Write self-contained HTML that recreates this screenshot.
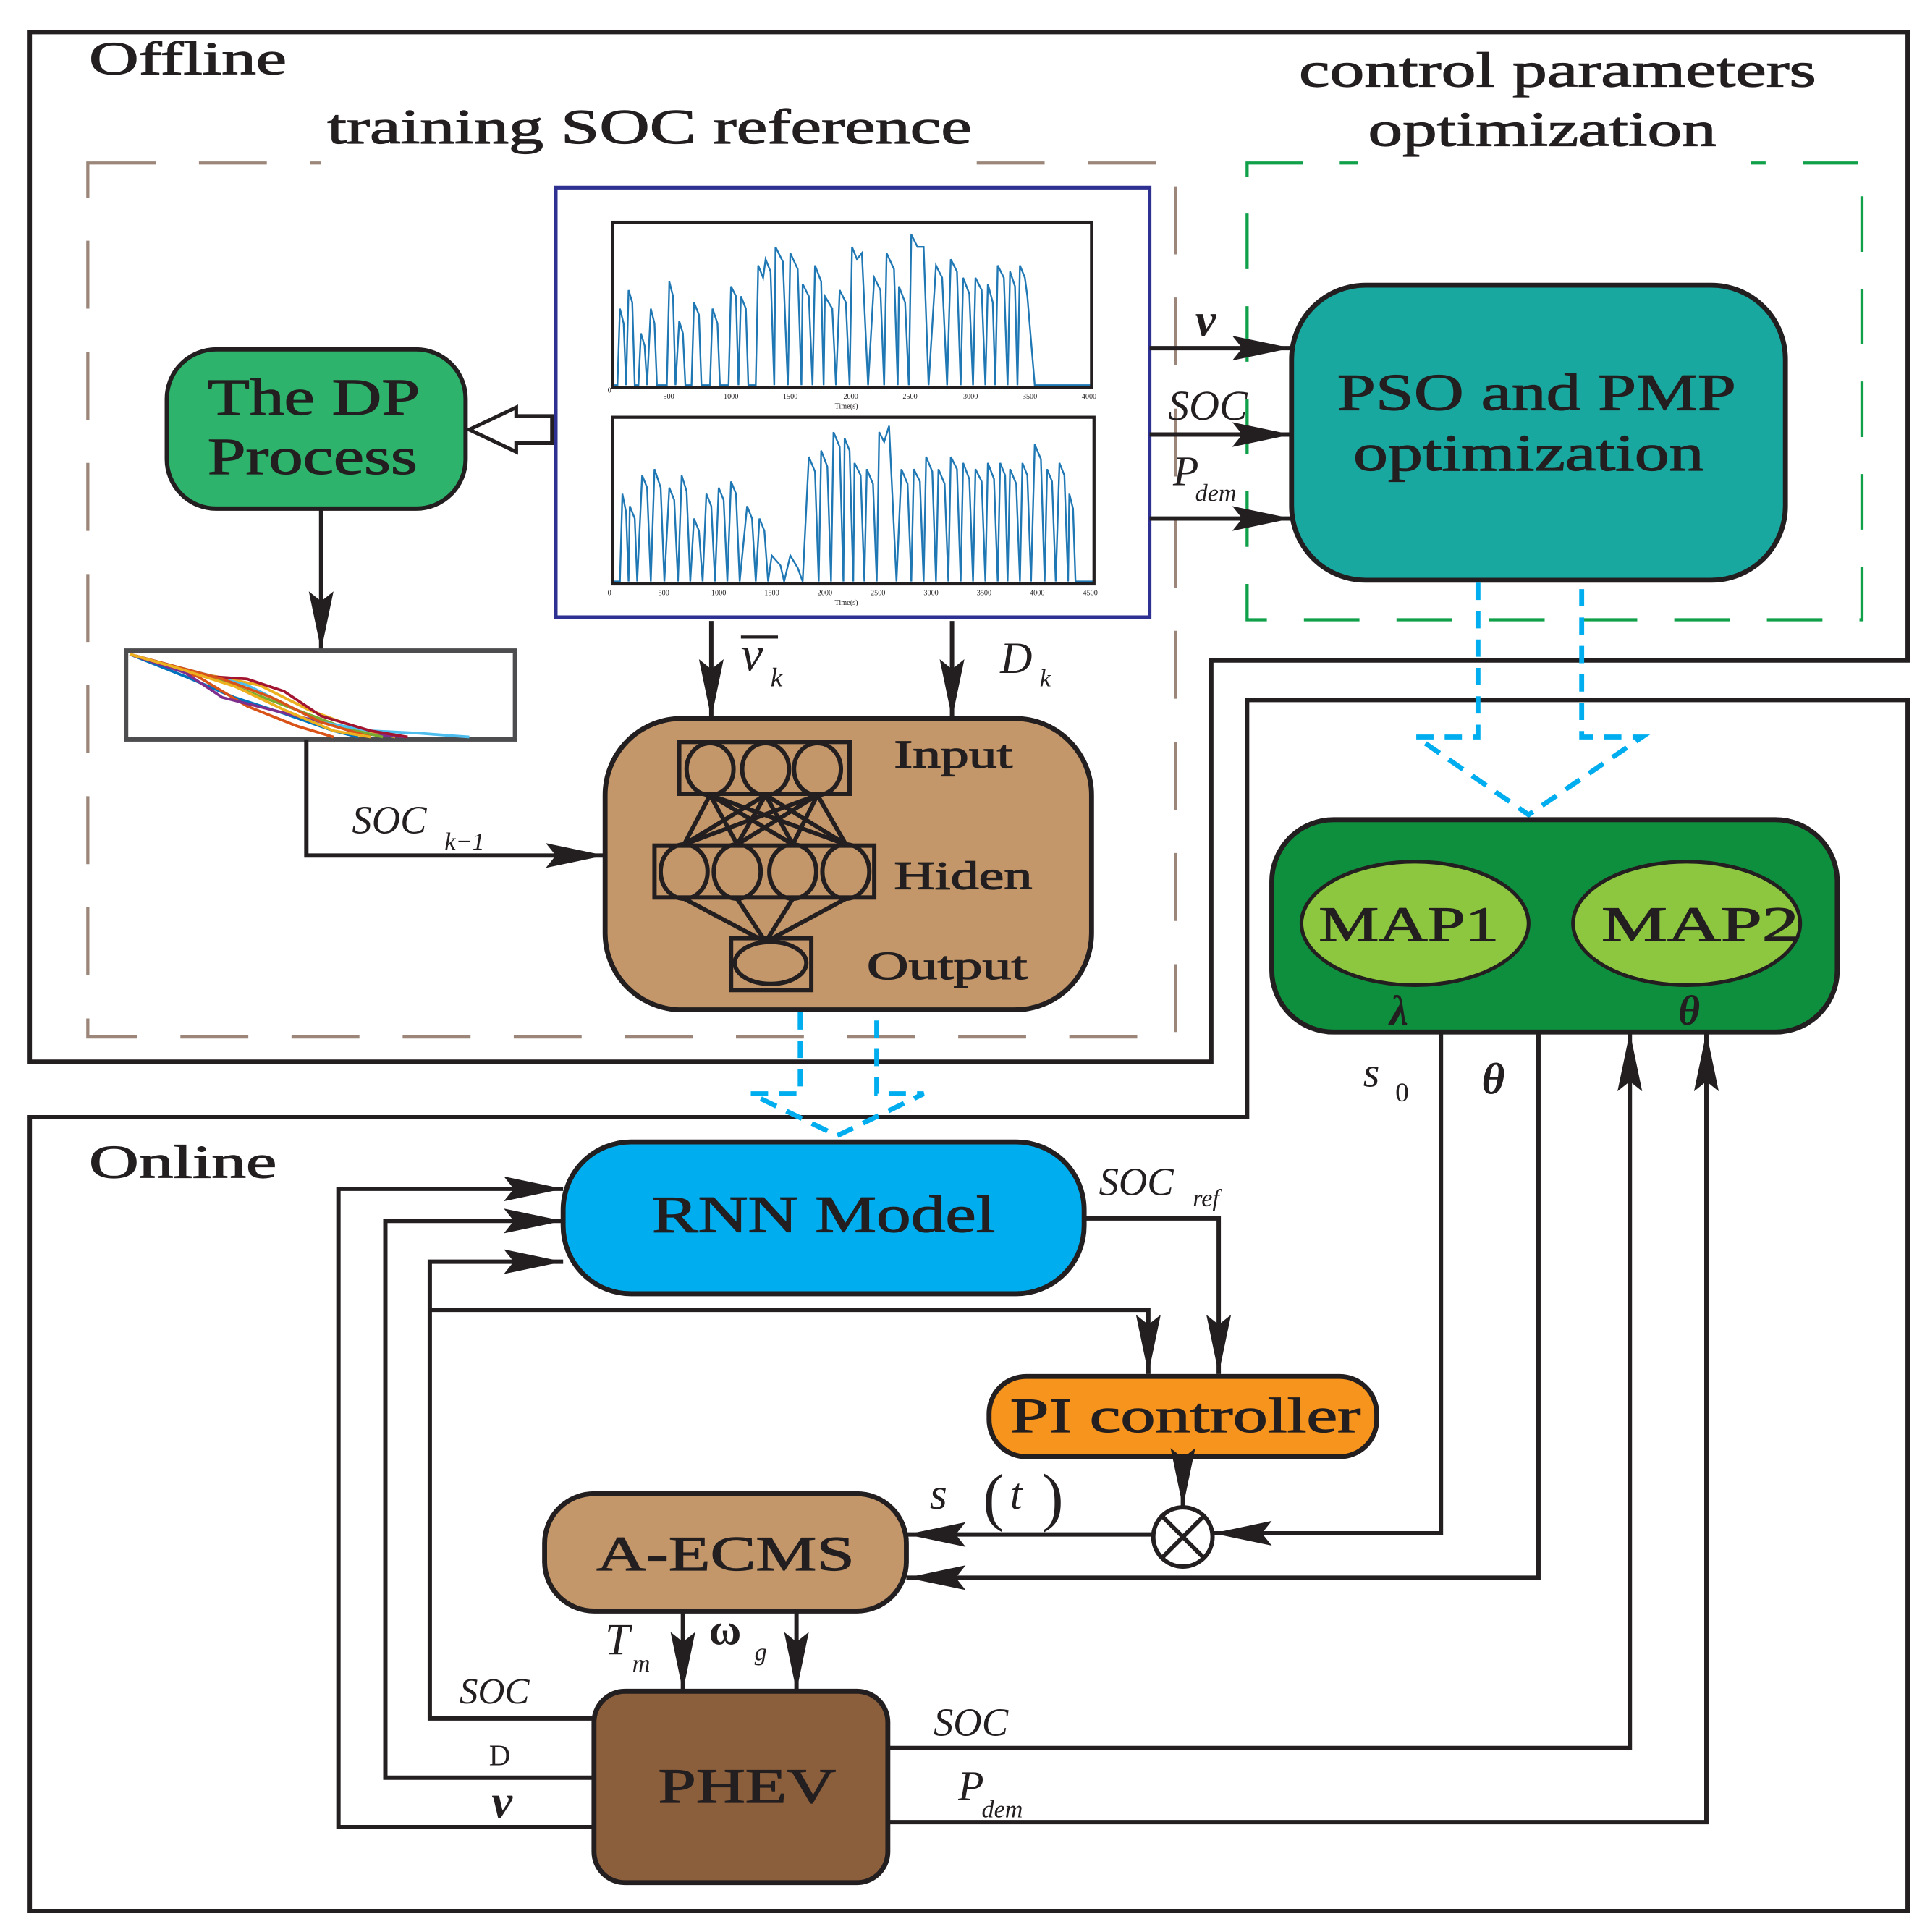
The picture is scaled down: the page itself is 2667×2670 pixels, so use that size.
<!DOCTYPE html>
<html><head><meta charset="utf-8"><style>
html,body{margin:0;padding:0;background:#fff}
svg{display:block}
text{font-family:"Liberation Serif",serif;fill:#231f20}
.it{font-style:italic}
.t{stroke:#231f20;stroke-width:0.7}
</style></head><body>
<svg width="2667" height="2670" viewBox="0 0 1563 1565" xmlns="http://www.w3.org/2000/svg">
<defs>
<marker id="a" markerUnits="userSpaceOnUse" markerWidth="50" markerHeight="22" refX="48" refY="11" orient="auto"><path d="M0,1 L48,11 L0,21 L8,11 Z" fill="#231f20"/></marker>
</defs>
<g fill="none" stroke="#231f20" stroke-width="3.5">
<path d="M24,26 H1545 V535 H981 V860 H24 Z"/>
<path d="M24,905 H1010 V567 H1545 V1548 H24 Z"/>
</g>
<rect x="71" y="132" width="881" height="708" fill="none" stroke="#9c8679" stroke-width="2.5" stroke-dasharray="55,35"/>
<rect x="1010" y="132" width="498" height="370" fill="none" stroke="#10a04a" stroke-width="2.5" stroke-dasharray="45,30"/>
<rect x="1100" y="124" width="318" height="16" fill="#fff"/>
<rect x="260" y="124" width="530" height="14" fill="#fff"/>
<text class="t" x="72" y="60" font-size="38" textLength="160" lengthAdjust="spacingAndGlyphs">Offline</text>
<text class="t" x="265" y="116" font-size="40" textLength="522" lengthAdjust="spacingAndGlyphs">training SOC reference</text>
<text class="t" x="1052" y="70" font-size="40" textLength="419" lengthAdjust="spacingAndGlyphs">control parameters</text>
<text class="t" x="1108" y="118" font-size="40" textLength="282" lengthAdjust="spacingAndGlyphs">optimization</text>
<text class="t" x="72" y="954" font-size="38" textLength="152" lengthAdjust="spacingAndGlyphs">Online</text>

<!-- plots -->
<rect x="450" y="152" width="481" height="348" fill="#fff" stroke="#2e3192" stroke-width="3"/>
<path fill="none" stroke="#1f77b4" stroke-width="1.4" d="M497,312 L500,312 L502,250 L505,262 L507,312 L509,235 L512,245 L514,312 L517,312 L519,270 L522,280 L524,312 L527,250 L530,262 L532,312 L540,312 L542,228 L545,240 L547,312 L550,260 L553,270 L555,312 L560,312 L562,245 L566,255 L568,312 L575,312 L577,250 L581,262 L583,312 L590,312 L592,232 L596,240 L598,312 L600,240 L604,250 L606,312 L612,312 L614,215 L618,225 L620,210 L624,220 L627,312 L628,200 L634,212 L638,312 L640,205 L646,218 L649,312 L650,230 L655,240 L658,312 L660,215 L665,228 L667,312 L668,240 L674,250 L677,312 L680,235 L685,245 L688,312 L690,200 L694,210 L698,205 L703,312 L708,225 L713,235 L716,312 L718,205 L724,218 L727,312 L728,232 L733,245 L736,312 L738,190 L743,200 L748,200 L752,312 L758,215 L763,225 L767,312 L770,210 L775,220 L778,312 L780,225 L785,238 L788,312 L790,225 L795,235 L798,312 L800,230 L804,245 L806,312 L808,215 L813,225 L816,312 L818,220 L822,232 L824,312 L826,215 L830,225 L832,240 L838,312 L884,312"/>
<path fill="none" stroke="#1f77b4" stroke-width="1.4" d="M497,471 L502,471 L504,400 L507,415 L509,471 L510,410 L514,420 L516,471 L520,385 L524,395 L527,471 L530,380 L535,395 L538,471 L542,395 L546,405 L549,471 L552,385 L556,398 L559,471 L562,420 L566,430 L569,471 L572,400 L576,410 L579,471 L582,395 L586,405 L589,471 L592,390 L596,400 L599,471 L605,410 L609,420 L612,471 L615,420 L619,430 L622,471 L625,450 L632,458 L635,471 L640,450 L646,460 L650,471 L655,370 L660,382 L663,471 L665,365 L670,378 L673,471 L675,350 L680,362 L683,471 L684,355 L688,365 L691,471 L692,375 L697,385 L700,471 L702,380 L707,392 L710,471 L712,350 L716,358 L720,345 L726,471 L730,380 L735,392 L738,471 L740,380 L745,390 L748,471 L750,370 L755,382 L758,471 L760,380 L765,392 L768,471 L770,370 L775,380 L778,471 L780,375 L785,388 L788,471 L790,380 L795,390 L798,471 L800,375 L805,388 L808,471 L810,375 L814,385 L816,471 L818,380 L823,392 L826,471 L828,375 L832,385 L835,471 L838,360 L843,372 L846,471 L848,380 L852,390 L855,471 L858,375 L862,385 L865,471 L866,400 L869,412 L871,471 L886,471"/>
<rect x="496" y="180" width="388" height="134" fill="none" stroke="#231f20" stroke-width="2.5"/>
<rect x="496" y="338" width="390" height="135" fill="none" stroke="#231f20" stroke-width="2.5"/>
<g font-size="6" fill="#231f20">
<text x="492" y="318">0</text><text x="537" y="323">500</text><text x="586" y="323">1000</text><text x="634" y="323">1500</text><text x="683" y="323">2000</text><text x="731" y="323">2500</text><text x="780" y="323">3000</text><text x="828" y="323">3500</text><text x="876" y="323">4000</text>
<text x="676" y="331">Time(s)</text>
<text x="492" y="482">0</text><text x="533" y="482">500</text><text x="576" y="482">1000</text><text x="619" y="482">1500</text><text x="662" y="482">2000</text><text x="705" y="482">2500</text><text x="748" y="482">3000</text><text x="791" y="482">3500</text><text x="834" y="482">4000</text><text x="877" y="482">4500</text>
<text x="676" y="490">Time(s)</text>
</g>

<!-- DP -->
<rect x="135" y="283" width="242" height="129" rx="40" fill="#2db36b" stroke="#231f20" stroke-width="3.5"/>
<text class="t" x="168" y="336" font-size="42" textLength="172" lengthAdjust="spacingAndGlyphs">The DP</text>
<text class="t" x="168" y="384" font-size="42" textLength="170" lengthAdjust="spacingAndGlyphs">Process</text>
<path d="M447,337 H418 V330 L380,348 L418,366 V359 H447 Z" fill="#fff" stroke="#231f20" stroke-width="3"/>
<line x1="260" y1="412" x2="260" y2="527" stroke="#231f20" stroke-width="3.5" marker-end="url(#a)"/>

<!-- soc plot -->
<rect x="102" y="527" width="315" height="72" fill="#fff" stroke="#4d4d4f" stroke-width="3.5"/>
<g fill="none" stroke-width="2.2">
<polyline stroke="#0072bd" points="105,530 150,548 190,565 230,578 270,592 290,597"/>
<polyline stroke="#d95319" points="105,530 160,548 200,572 240,588 270,597"/>
<polyline stroke="#edb120" points="105,530 160,545 210,555 250,575 290,590 320,597"/>
<polyline stroke="#7e2f8e" points="105,530 150,545 180,565 220,575 260,585 300,595 330,597"/>
<polyline stroke="#77ac30" points="105,530 170,548 200,560 240,575 280,590 310,597"/>
<polyline stroke="#4dbeee" points="105,530 150,542 200,555 230,570 260,585 300,592 340,594 380,597"/>
<polyline stroke="#a2142f" points="105,530 170,548 200,550 230,560 260,580 300,592 330,597"/>
<polyline stroke="#d95319" points="105,530 180,550 220,565 260,585 300,597"/>
<polyline stroke="#edb120" points="105,530 140,540 190,556 230,575 270,592 300,597"/>
</g>
<polyline points="248,599 248,693 490,693" fill="none" stroke="#231f20" stroke-width="3.5" marker-end="url(#a)"/>
<text x="285" y="675" font-size="32" class="it">SOC</text>
<text x="360" y="688" font-size="20" class="it">k−1</text>

<!-- NN -->
<rect x="490" y="582" width="394" height="236" rx="62" fill="#c4976a" stroke="#231f20" stroke-width="4"/>
<g fill="none" stroke="#231f20" stroke-width="3.5">
<rect x="550" y="601" width="138" height="42"/>
<rect x="530" y="685" width="178" height="42"/>
<rect x="592" y="760" width="65" height="42"/>
<ellipse cx="575" cy="623" rx="19" ry="21"/><ellipse cx="620" cy="623" rx="19" ry="21"/><ellipse cx="662" cy="623" rx="19" ry="21"/>
<ellipse cx="554" cy="706" rx="19" ry="22"/><ellipse cx="597" cy="706" rx="19" ry="22"/><ellipse cx="642" cy="706" rx="19" ry="22"/><ellipse cx="685" cy="706" rx="19" ry="22"/>
<ellipse cx="624" cy="780" rx="29" ry="17"/>
<path d="M575,644 L554,684 M575,644 L597,684 M575,644 L642,684 M575,644 L685,684 M620,644 L554,684 M620,644 L597,684 M620,644 L642,684 M620,644 L685,684 M662,644 L554,684 M662,644 L597,684 M662,644 L642,684 M662,644 L685,684 M554,728 L620,763 M597,728 L620,763 M642,728 L620,763 M685,728 L620,763"/>
</g>
<text class="t" x="724" y="622" font-size="32" textLength="96" lengthAdjust="spacingAndGlyphs">Input</text>
<text class="t" x="724" y="720" font-size="32" textLength="112" lengthAdjust="spacingAndGlyphs">Hiden</text>
<text class="t" x="702" y="793" font-size="32" textLength="130" lengthAdjust="spacingAndGlyphs">Output</text>

<line x1="576" y1="503" x2="576" y2="582" stroke="#231f20" stroke-width="3.5" marker-end="url(#a)"/>
<line x1="771" y1="503" x2="771" y2="582" stroke="#231f20" stroke-width="3.5" marker-end="url(#a)"/>
<text x="600" y="543" font-size="40" class="it">v</text><line x1="600" y1="516" x2="630" y2="516" stroke="#231f20" stroke-width="2.5"/>
<text x="624" y="556" font-size="22" class="it">k</text>
<text x="810" y="545" font-size="36" class="it">D</text><text x="842" y="556" font-size="20" class="it">k</text>

<!-- PSO -->
<rect x="1046" y="231" width="400" height="239" rx="60" fill="#19a89f" stroke="#231f20" stroke-width="4"/>
<text class="t" x="1083" y="332" font-size="42" textLength="323" lengthAdjust="spacingAndGlyphs">PSO and PMP</text>
<text class="t" x="1096" y="381" font-size="42" textLength="284" lengthAdjust="spacingAndGlyphs">optimization</text>
<g stroke="#231f20" stroke-width="3.5">
<line x1="931" y1="282" x2="1046" y2="282" marker-end="url(#a)"/>
<line x1="931" y1="352" x2="1046" y2="352" marker-end="url(#a)"/>
<line x1="931" y1="420" x2="1046" y2="420" marker-end="url(#a)"/>
</g>
<text x="968" y="272" font-size="38" class="it" font-weight="bold">v</text>
<text x="946" y="340" font-size="34" class="it">SOC</text>
<text x="950" y="393" font-size="34" class="it">P</text><text x="968" y="406" font-size="20" class="it">dem</text>

<!-- blue dashed -->
<g fill="none" stroke="#00aeef" stroke-width="4" stroke-dasharray="14,9">
<path d="M1197,472 V597 H1147 L1238,660 L1330,597 H1281 V472"/>
<path d="M648,820 V886 H608 L678,920 L748,886 H710 V820"/>
</g>

<!-- MAP -->
<rect x="1030" y="664" width="458" height="172" rx="50" fill="#0e8f3e" stroke="#231f20" stroke-width="4"/>
<ellipse cx="1146" cy="748" rx="92" ry="50" fill="#8dc63f" stroke="#231f20" stroke-width="3"/>
<ellipse cx="1366" cy="748" rx="92" ry="50" fill="#8dc63f" stroke="#231f20" stroke-width="3"/>
<text class="t" x="1068" y="762" font-size="40" textLength="146" lengthAdjust="spacingAndGlyphs">MAP1</text>
<text class="t" x="1297" y="762" font-size="40" textLength="160" lengthAdjust="spacingAndGlyphs">MAP2</text>
<text x="1133" y="830" font-size="34" class="it" font-weight="bold" text-anchor="middle">λ</text>
<text x="1368" y="830" font-size="34" class="it" font-weight="bold" text-anchor="middle">θ</text>

<!-- RNN -->
<rect x="456" y="925" width="422" height="123" rx="55" fill="#00aeef" stroke="#231f20" stroke-width="4"/>
<text class="t" x="528" y="998" font-size="42" textLength="278" lengthAdjust="spacingAndGlyphs">RNN Model</text>
<text x="890" y="968" font-size="32" class="it">SOC</text><text x="966" y="977" font-size="20" class="it">ref</text>

<!-- PI -->
<rect x="801" y="1115" width="314" height="65" rx="30" fill="#f7941d" stroke="#231f20" stroke-width="4"/>
<text class="t" x="818" y="1160" font-size="40" textLength="284" lengthAdjust="spacingAndGlyphs">PI controller</text>

<!-- A-ECMS -->
<rect x="441" y="1210" width="293" height="95" rx="40" fill="#c4976a" stroke="#231f20" stroke-width="4"/>
<text class="t" x="483" y="1272" font-size="40" textLength="209" lengthAdjust="spacingAndGlyphs">A-ECMS</text>

<!-- PHEV -->
<rect x="481" y="1370" width="238" height="155" rx="25" fill="#8b5e3c" stroke="#231f20" stroke-width="4"/>
<text class="t" x="533" y="1460" font-size="40" textLength="144" lengthAdjust="spacingAndGlyphs">PHEV</text>

<circle cx="958" cy="1245" r="24" fill="#fff" stroke="#231f20" stroke-width="3.5"/>
<path d="M941,1228 L975,1262 M975,1228 L941,1262" stroke="#231f20" stroke-width="3.5"/>

<g fill="none" stroke="#231f20" stroke-width="3.5">
<polyline points="878,987 987,987 987,1113" marker-end="url(#a)"/>
<polyline points="348,1061 930,1061 930,1113" marker-end="url(#a)"/>
<polyline points="481,1392 348,1392 348,1022 456,1022" marker-end="url(#a)"/>
<polyline points="481,1440 312,1440 312,989 456,989" marker-end="url(#a)"/>
<polyline points="481,1480 274,1480 274,963 456,963" marker-end="url(#a)"/>
<line x1="958" y1="1180" x2="958" y2="1221" marker-end="url(#a)"/>
<polyline points="1167,836 1167,1242 982,1242" marker-end="url(#a)"/>
<line x1="934" y1="1243" x2="734" y2="1243" marker-end="url(#a)"/>
<polyline points="1246,836 1246,1278 734,1278" marker-end="url(#a)"/>
<line x1="553" y1="1305" x2="553" y2="1370" marker-end="url(#a)"/>
<line x1="645" y1="1305" x2="645" y2="1370" marker-end="url(#a)"/>
<polyline points="719,1416 1320,1416 1320,836" marker-end="url(#a)"/>
<polyline points="719,1476 1382,1476 1382,836" marker-end="url(#a)"/>
</g>
<text x="1104" y="880" font-size="34" class="it">s</text><text x="1130" y="892" font-size="22">0</text>
<text x="1200" y="886" font-size="36" class="it" font-weight="bold">θ</text>
<text x="753" y="1222" font-size="36" class="it">s</text>
<text x="796" y="1230" font-size="52">(</text><text x="818" y="1222" font-size="36" class="it">t</text><text x="844" y="1230" font-size="52">)</text>
<text x="490" y="1340" font-size="36" class="it">T</text><text x="512" y="1354" font-size="20" class="it">m</text>
<text x="574" y="1332" font-size="36" font-weight="bold">ω</text><text x="611" y="1345" font-size="20" class="it">g</text>
<text x="372" y="1380" font-size="30" class="it">SOC</text>
<text x="396" y="1430" font-size="24">D</text>
<text x="398" y="1472" font-size="38" class="it" font-weight="bold">v</text>
<text x="756" y="1406" font-size="32" class="it">SOC</text>
<text x="776" y="1458" font-size="34" class="it">P</text><text x="795" y="1472" font-size="20" class="it">dem</text>
</svg>
</body></html>
